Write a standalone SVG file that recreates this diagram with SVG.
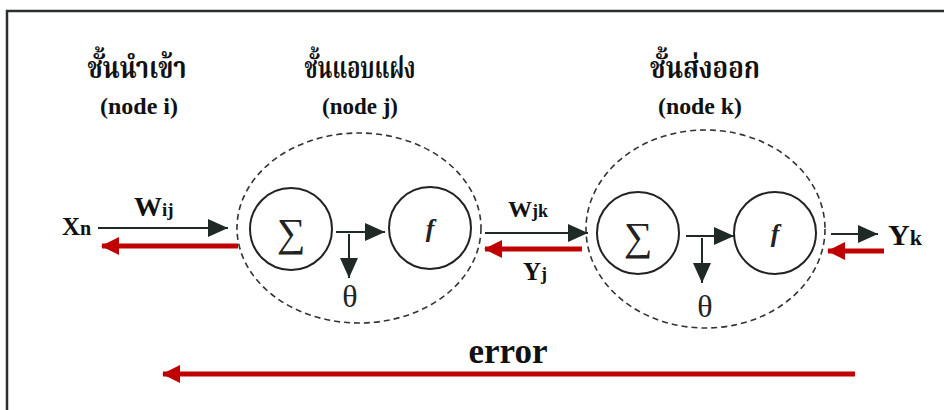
<svg xmlns="http://www.w3.org/2000/svg" width="944" height="410" viewBox="0 0 944 410">
  <style>
    .thai { font-family: "Noto Serif Thai", "Noto Sans Thai", "Loma", "Garuda", "Liberation Serif", serif; font-weight: bold; font-size: 30px; fill: #111; text-anchor: middle; }
    .lbl { font-family: "Liberation Serif", "Times New Roman", serif; font-weight: bold; fill: #111; }
    .node { font-family: "Liberation Serif", serif; font-weight: bold; font-size: 24px; fill: #111; text-anchor: middle; }
    .sym { font-family: "Liberation Serif", "DejaVu Serif", serif; fill: #222; text-anchor: middle; }
    .layer { fill: none; stroke: #333; stroke-width: 1.6; stroke-dasharray: 6 4; }
    .unit { fill: #fff; stroke: #222; stroke-width: 2; }
    .blk { stroke: #1f2a27; stroke-width: 2; fill: none; marker-end: url(#ah); }
    .red { stroke: #c00000; stroke-width: 5; fill: none; marker-end: url(#rh); }
  </style>
  <defs>
    <marker id="ah" markerUnits="userSpaceOnUse" markerWidth="20" markerHeight="18" refX="20" refY="9" orient="auto">
      <path d="M0,0 L20,9 L0,18 z" fill="#1f2a27"/>
    </marker>
    <marker id="rh" markerUnits="userSpaceOnUse" markerWidth="18" markerHeight="18" refX="17" refY="9" orient="auto">
      <path d="M0,0 L18,9 L0,18 z" fill="#c00000"/>
    </marker>
  </defs>
  <rect width="944" height="410" fill="#fff"/>
  <g id="frame">
    <path d="M7,410 L7,11 L944,11" fill="none" stroke="#2a2f2e" stroke-width="2.5"/>
  </g>

  <g id="layer-i">
    <text class="thai" x="137" y="78" textLength="99" lengthAdjust="spacingAndGlyphs">ชั้นนำเข้า</text>
    <text class="node" x="139" y="114" textLength="78" lengthAdjust="spacingAndGlyphs">(node i)</text>
  </g>
  <g id="layer-j">
    <text class="thai" x="360" y="78" textLength="111" lengthAdjust="spacingAndGlyphs">ชั้นแอบแฝง</text>
    <text class="node" x="360" y="114" textLength="76" lengthAdjust="spacingAndGlyphs">(node j)</text>
    <ellipse class="layer" cx="359" cy="228" rx="122" ry="95"/>
  </g>
  <g id="layer-k">
    <text class="thai" x="705" y="78" textLength="110" lengthAdjust="spacingAndGlyphs">ชั้นส่งออก</text>
    <text class="node" x="700" y="114" textLength="84" lengthAdjust="spacingAndGlyphs">(node k)</text>
    <ellipse class="layer" cx="705.5" cy="229" rx="119.5" ry="99"/>
  </g>

  <g id="sum-j">
    <circle class="unit" cx="291" cy="229" r="41"/>
    <text class="sym" x="291" y="246" font-size="40">∑</text>
  </g>
  <g id="f-j">
    <circle class="unit" cx="430" cy="228" r="41"/>
    <text class="sym" x="430" y="237" font-size="26" font-style="italic" font-weight="bold">f</text>
  </g>
  <g id="sum-k">
    <circle class="unit" cx="638" cy="233" r="41"/>
    <text class="sym" x="638" y="250" font-size="40">∑</text>
  </g>
  <g id="f-k">
    <circle class="unit" cx="775" cy="233" r="41"/>
    <text class="sym" x="775" y="242" font-size="26" font-style="italic" font-weight="bold">f</text>
  </g>

  <g id="labels">
    <text class="lbl" x="62" y="235" font-size="25">X<tspan font-size="20">n</tspan></text>
    <text class="lbl" x="134" y="216" font-size="28">W<tspan font-size="19">ij</tspan></text>
    <text class="lbl" x="508" y="217" font-size="24">W<tspan font-size="18">jk</tspan></text>
    <text class="lbl" x="523" y="280" font-size="25">Y<tspan font-size="18">j</tspan></text>
    <text class="lbl" x="888" y="245" font-size="30">Y<tspan font-size="22">k</tspan></text>
    <text class="sym" x="350" y="307" font-size="32">θ</text>
    <text class="sym" x="705" y="317" font-size="32">θ</text>
    <text class="lbl" x="508" y="363" font-size="35" text-anchor="middle">error</text>
  </g>

  <g id="connectors">
    <line class="blk" x1="98" y1="228" x2="228" y2="228"/>
    <line class="red" x1="238" y1="246" x2="102" y2="246"/>
    <line class="blk" x1="336" y1="232" x2="385" y2="232"/>
    <line class="blk" x1="349" y1="234" x2="349" y2="278"/>
    <line class="blk" x1="485" y1="233" x2="588" y2="233"/>
    <line class="red" x1="582" y1="249" x2="485" y2="249"/>
    <line class="blk" x1="686" y1="236" x2="734" y2="236"/>
    <line class="blk" x1="702" y1="238" x2="702" y2="283"/>
    <line class="blk" x1="831" y1="234" x2="878" y2="234"/>
    <line class="red" x1="884" y1="251" x2="828" y2="251"/>
    <line class="red" x1="855" y1="374" x2="163" y2="374"/>
  </g>
</svg>
